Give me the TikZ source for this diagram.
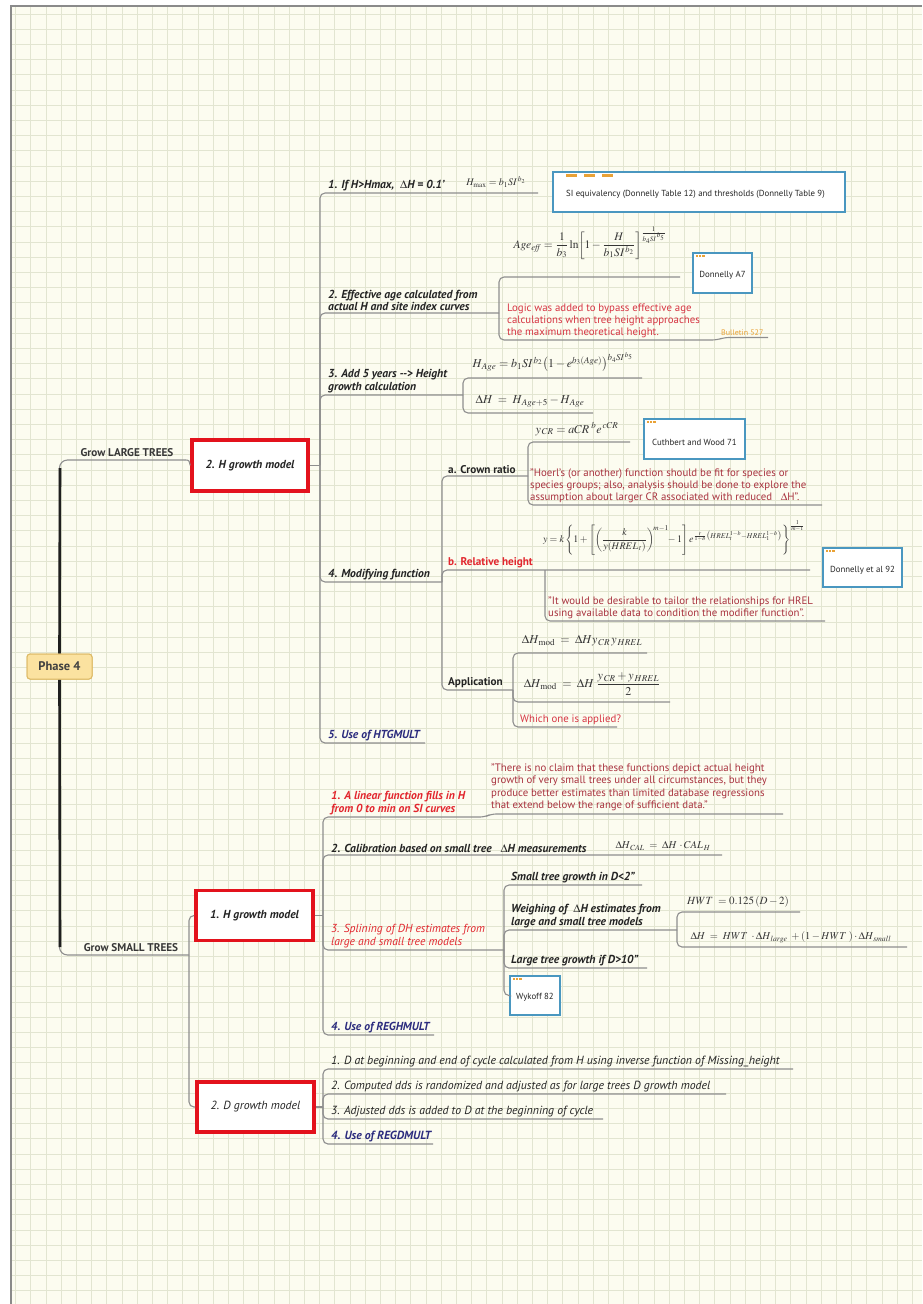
\documentclass[tikz,border=0pt]{standalone}
\usepackage{mathptmx}
\usepackage{amsmath}
\usepackage[no-math]{fontspec}
\setmainfont{PT Sans}
\definecolor{paper}{HTML}{FCFCF0}
\definecolor{gridc}{HTML}{E2E5D1}
\definecolor{framec}{HTML}{8A8A8A}
\definecolor{linec}{HTML}{8E8E8E}
\definecolor{ink}{HTML}{242424}
\definecolor{topred}{HTML}{E2262E}
\definecolor{notered}{HTML}{D63442}
\definecolor{maroon}{HTML}{A8323E}
\definecolor{navy}{HTML}{2C2C7E}
\definecolor{gold}{HTML}{E9A236}
\definecolor{boxred}{HTML}{E3121C}
\definecolor{boxblue}{HTML}{4A97C0}
\definecolor{phasefill}{HTML}{FBE2A0}
\definecolor{phasedraw}{HTML}{DDBA66}
\definecolor{fxc}{HTML}{353535}
\newcommand\ftopic{\fontsize{11.6}{12.5}\selectfont\bfseries\itshape}
\newcommand\fplain{\fontsize{11.2}{12.5}\selectfont\bfseries}
\newcommand\fnote{\fontsize{10.8}{11.8}\selectfont}
\newcommand\fdtext{\fontsize{11.8}{13}\selectfont\itshape}
\newcommand\fsmall{\fontsize{8.8}{10}\selectfont}
\newcommand\fxsize[1]{\fontsize{#1}{#1}\selectfont}
% three small orange marks in the corner of a reference box
\newcommand\tagdots[1]{\foreach \k in {0,1,2}{\fill[gold] ([shift={(4pt+3.3pt*\k,-3.5pt)}]#1.north west) rectangle +(2.2pt,-2.2pt);}}
\begin{document}
\begin{tikzpicture}[x=1pt,y=-1pt,
  conn/.style={draw=linec,line width=1.1pt,rounded corners=5pt},
  trunk/.style={draw=black!88,line width=2.6pt},
  topic/.style={anchor=south west,inner sep=0pt,align=left,font=\ftopic,text=ink},
  plain/.style={topic,font=\fplain},
  dtopic/.style={topic,font=\fdtext},
  note/.style={anchor=south west,inner sep=0pt,align=left,font=\fnote},
  fx/.style={inner sep=0pt,text=fxc},
  redbox/.style={draw=boxred,line width=3.6pt,fill=white,minimum width=117pt,minimum height=50pt,inner sep=0pt,font=\ftopic,text=ink},
  refbox/.style={draw=boxblue,line width=2.6pt,fill=white,inner sep=0pt,font=\fsmall,text=ink},
  phase/.style={draw=phasedraw,line width=1pt,fill=phasefill,rounded corners=3pt,minimum width=65pt,minimum height=25pt,inner sep=0pt,font=\fontsize{12.5}{14}\selectfont\bfseries,text=black!75}
]
\useasboundingbox (0,0) rectangle (922,1304);
% paper and grid
\fill[white] (0,0) rectangle (922,1304);
\fill[paper] (11,6) rectangle (922,1304);
\foreach \gx in {0,...,59} \draw[gridc,line width=0.8pt] (15.5+15.2*\gx,6) -- (15.5+15.2*\gx,1304);
\foreach \gy in {0,...,85} \draw[gridc,line width=0.8pt] (11,14+15.2*\gy) -- (922,14+15.2*\gy);
\draw[framec,line width=1.4pt] (11,1304) -- (11,6) -- (922,6);

% ---------- root ----------
\node[phase] (phase) at (59.5,666.5) {Phase 4};
\coordinate (lgEnd) at (185,460);
\coordinate (hubS) at (189,955);
\draw[conn,rounded corners=8pt] (lgEnd) -| (phase.north);
\draw[conn,rounded corners=8pt] (hubS) -| (phase.south);
\draw[trunk] (phase.north) -- (60,468);
\draw[trunk] (phase.south) -- (60,947);
\node[phase] at (59.5,666.5) {Phase 4};
\node[anchor=south,inner sep=0pt,font=\fplain,text=black!78] (lgLab) at (127,457) {Grow LARGE TREES};
\node[anchor=south,inner sep=0pt,font=\fplain,text=black!78] (sgLab) at (131,952) {Grow SMALL TREES};

% ---------- large trees: H growth model ----------
\node[redbox,minimum width=116pt,minimum height=51pt] (hbox) at (250,465.5) {2. H growth model};
\draw[conn] (lgEnd) .. controls (189,460) .. (hbox.west);
\coordinate (hubA) at (320,465.5);
\draw[conn] (hbox.east) -- (hubA);

% 1. H > Hmax
\coordinate (t1e) at (538,193);
\draw[conn] (hubA) |- (t1e);
\node[topic] (t1) at (328,191) {1. If H>Hmax,\ \ $\Delta$H = 0.1'};
\node[fx,font=\fxsize{10}] (fHmax) at (496,182) {$H_{\max} = b_1 SI^{\,b_2}$};
\node[refbox,minimum width=292pt,minimum height=40pt] (siref) at (699,192) {};
\node[anchor=west,inner sep=0pt,font=\fsmall,text=ink] (sitext) at (566,194) {SI equivalency (Donnelly Table 12) and thresholds (Donnelly Table 9)};
\foreach \k in {0,1,2} \fill[gold] ([shift={(14pt+18pt*\k,-3pt)}]siref.north west) rectangle +(11pt,-3pt);

% 2. Effective age
\coordinate (t2e) at (499,313);
\draw[conn] (hubA) |- (t2e);
\node[topic] (t2) at (328,311) {2. Effective age calculated from\\actual H and site index curves};
\coordinate (fAgeE) at (680,277);
\draw[conn] (t2e) |- (fAgeE);
\node[fx,font=\fxsize{11.5}] (fAge) at (590,243) {$\displaystyle Age_{\mathit{eff}} = \frac{1}{b_3}\ln\!\left[1-\frac{H}{b_1SI^{\,b_2}}\right]^{\frac{1}{b_4SI^{\,b_5}}}$};
\node[refbox,minimum width=59pt,minimum height=40pt] (ra7) at (722.5,273) {};
\node[inner sep=0pt,font=\fsmall,text=ink] at (ra7.center) [yshift=-2pt] {Donnelly A7};
\tagdots{ra7}
\coordinate (lgA) at (717,340);
\coordinate (lgB) at (724,337.5);
\coordinate (bulE) at (768,337.5);
\draw[conn] (t2e) |- (lgA) -- (lgB) -- (bulE);
\node[note,text=notered] (logic) at (507,338) {Logic was added to bypass effective age\\calculations when tree height approaches\\the maximum theoretical height.};
\node[anchor=south west,inner sep=0pt,font=\fontsize{8}{9}\selectfont,text=gold] (bul) at (721,336) {Bulletin 527};

% 3. Add 5 years
\coordinate (t3e) at (463,395);
\draw[conn] (hubA) |- (t3e);
\node[topic] (t3) at (328,393) {3. Add 5 years {-}{-}> Height\\growth calculation};
\coordinate (fHaE) at (642,378);
\coordinate (fDhE) at (593,413);
\draw[conn] (t3e) |- (fHaE);
\draw[conn] (t3e) |- (fDhE);
\node[fx,font=\fxsize{12}] (fHage) at (553,362) {$H_{\,Age} = b_1SI^{\,b_2}\bigl(1-e^{b_3(Age)}\bigr)^{b_4SI^{\,b_5}}$};
\node[fx,font=\fxsize{12}] (fDh) at (530,401) {$\Delta H\;=\;H_{\,Age+5}-H_{\,Age}$};

% 4. Modifying function
\coordinate (t4e) at (442,582);
\draw[conn] (hubA) |- (t4e);
\node[topic] (t4) at (328,580) {4. Modifying function};
% a. crown ratio
\coordinate (caE) at (528,476);
\draw[conn] (t4e) |- (caE);
\node[plain] (ca) at (448,474) {a. Crown ratio};
\coordinate (fCrE) at (630,442);
\coordinate (hoE) at (822,505);
\draw[conn] (caE) |- (fCrE);
\draw[conn] (caE) |- (hoE);
\node[fx,font=\fxsize{12}] (fCr) at (577,429) {$y_{\,CR} = aCR^{\;b}e^{\,cCR}$};
\node[refbox,minimum width=101pt,minimum height=40pt] (rcw) at (694.5,439) {};
\node[inner sep=0pt,font=\fsmall,text=ink] at (rcw.center) [yshift=-3pt] {Cuthbert and Wood 71};
\tagdots{rcw}
\node[note,text=maroon] (hoerl) at (530,503) {"Hoerl's (or another) function should be fit for species or\\species groups; also, analysis should be done to explore the\\assumption about larger CR associated with reduced\ \ \ $\Delta$H".};
% b. relative height
\coordinate (rhH) at (545,570);
\coordinate (fRhE) at (810,570);
\draw[conn] (t4e) |- (fRhE);
\node[plain,text=topred] (rh) at (448,568) {b. Relative height};
\node[fx,font=\fxsize{10}] (fRh) at (674,538) {$\displaystyle y = k\left\{1+\left[\left(\frac{k}{y(HREL_{\,t})}\right)^{\!m-1}\!\!-1\right]e^{\frac{r}{1-b}\left(HREL_t^{1-b}-HREL_1^{1-b}\right)}\right\}^{\frac{1}{m-1}}$};
\node[refbox,minimum width=79pt,minimum height=39pt] (rd92) at (862.5,567.5) {};
\node[inner sep=0pt,font=\fsmall,text=ink] at (rd92.center) [yshift=-3pt] {Donnelly et al 92};
\tagdots{rd92}
\coordinate (itE) at (825,621);
\draw[conn] (rhH) |- (itE);
\node[note,text=maroon] (itwd) at (548,619) {"It would be desirable to tailor the relationships for HREL\\using available data to condition the modifier function".};
% application
\coordinate (apE) at (513,690);
\draw[conn] (t4e) |- (apE);
\node[plain] (ap) at (448,688) {Application};
\coordinate (fM1E) at (647,653);
\coordinate (fM2E) at (670,702);
\coordinate (whE) at (617,727);
\draw[conn] (apE) |- (fM1E);
\draw[conn] (apE) |- (fM2E);
\draw[conn] (apE) |- (whE);
\node[fx,font=\fxsize{12}] (fM1) at (582,641) {$\Delta H_{\,\mathrm{mod}}\;=\;\Delta H y_{\,CR}\,y_{\,HREL}$};
\node[fx,font=\fxsize{12}] (fM2) at (592,684) {$\Delta H_{\,\mathrm{mod}}\;=\;\Delta H\;\dfrac{y_{\,CR}+y_{\,HREL}}{2}$};
\node[note,text=notered] (which) at (520,725) {Which one is applied?};

% 5. HTGMULT
\coordinate (t5e) at (425,743);
\draw[conn] (hubA) |- (t5e);
\node[topic,text=navy] (t5) at (328,741) {5. Use of HTGMULT};

% ---------- small trees: H growth model ----------
\node[redbox] (hsbox) at (254.5,915.5) {1. H growth model};
\draw[conn] (hubS) |- (hsbox.west);
\coordinate (hubB) at (323,915.5);
\draw[conn] (hsbox.east) -- (hubB);

% 1. linear function
\coordinate (s1e) at (485,817);
\coordinate (qA) at (491,814);
\coordinate (qE) at (783,814);
\draw[conn] (hubB) |- (s1e) -- (qA) -- (qE);
\node[topic,text=topred] (s1) at (331,815) {1. A linear function fills in H\\from 0 to min on SI curves};
\node[note,text=maroon,font=\fontsize{10.8}{12.5}\selectfont] (quote) at (491,811) {"There is no claim that these functions depict actual height\\growth of very small trees under all circumstances, but they\\produce better estimates than limited database regressions\\that extend below the range of sufficient data."};

% 2. calibration
\coordinate (s2e) at (722,855);
\draw[conn] (hubB) |- (s2e);
\node[topic] (s2) at (331,853) {2. Calibration based on small tree\ \ \ $\Delta$H measurements};
\node[fx,font=\fxsize{10.5}] (fCal) at (663,846) {$\Delta H_{\,CAL}\;=\;\Delta H\,\cdot CAL_{\,H}$};

% 3. splining
\coordinate (s3e) at (504,950);
\draw[conn] (hubB) |- (s3e);
\node[topic,font=\fontsize{11.6}{12.5}\selectfont\itshape,text=topred] (s3) at (331,948) {3. Splining of DH estimates from\\large and small tree models};
\coordinate (stE) at (642,885);
\coordinate (wgE) at (677,930);
\coordinate (ltE) at (647,968);
\draw[conn] (s3e) |- (stE);
\draw[conn] (s3e) |- (wgE);
\draw[conn] (s3e) |- (ltE);
\node[topic] (st) at (511,883) {Small tree growth in D<2''};
\node[topic] (wg) at (511,928) {Weighing of\ \ $\Delta$H estimates from\\large and small tree models};
\node[topic] (lt) at (511,966) {Large tree growth if D>10''};
\coordinate (fHwE) at (800,912);
\coordinate (fDwE) at (907,947);
\draw[conn] (wgE) |- (fHwE);
\draw[conn] (wgE) |- (fDwE);
\node[fx,font=\fxsize{11}] (fHw) at (738,902) {$HWT\;=0.125\,(D-2)$};
\node[fx,font=\fxsize{10.5}] (fDw) at (791,937) {$\Delta H\;=\;HWT\;\cdot\Delta H_{\,large}\;+(1-HWT\;)\cdot\Delta H_{\,small}$};
\node[refbox,minimum width=50pt,minimum height=39pt] (rwy) at (535,995.5) {};
\node[inner sep=0pt,font=\fsmall,text=ink] at (rwy.center) [yshift=-2pt] {Wykoff 82};
\tagdots{rwy}
\draw[conn] (s3e) |- (rwy.west);

% 4. REGHMULT
\coordinate (s4e) at (434,1035);
\draw[conn] (hubB) |- (s4e);
\node[topic,text=navy] (s4) at (331,1033) {4. Use of REGHMULT};

% ---------- small trees: D growth model ----------
\node[redbox,font=\fdtext] (dbox) at (255.5,1107) {2. D growth model};
\draw[conn] (hubS) |- (dbox.west);
\coordinate (hubD) at (323,1107);
\draw[conn] (dbox.east) -- (hubD);
\coordinate (d1e) at (793,1069);
\coordinate (d2e) at (726,1094);
\coordinate (d3e) at (603,1119);
\coordinate (d4e) at (433,1144);
\draw[conn] (hubD) |- (d1e);
\draw[conn] (hubD) |- (d2e);
\draw[conn] (hubD) |- (d3e);
\draw[conn] (hubD) |- (d4e);
\node[dtopic] (d1) at (331,1067) {1. D at beginning and end of cycle calculated from H using inverse function of Missing\_height};
\node[dtopic] (d2) at (331,1092) {2. Computed dds is randomized and adjusted as for large trees D growth model};
\node[dtopic] (d3) at (331,1117) {3. Adjusted dds is added to D at the beginning of cycle};
\node[dtopic,font=\fdtext\bfseries,text=navy] (d4) at (331,1142) {4. Use of REGDMULT};
\end{tikzpicture}
\end{document}
